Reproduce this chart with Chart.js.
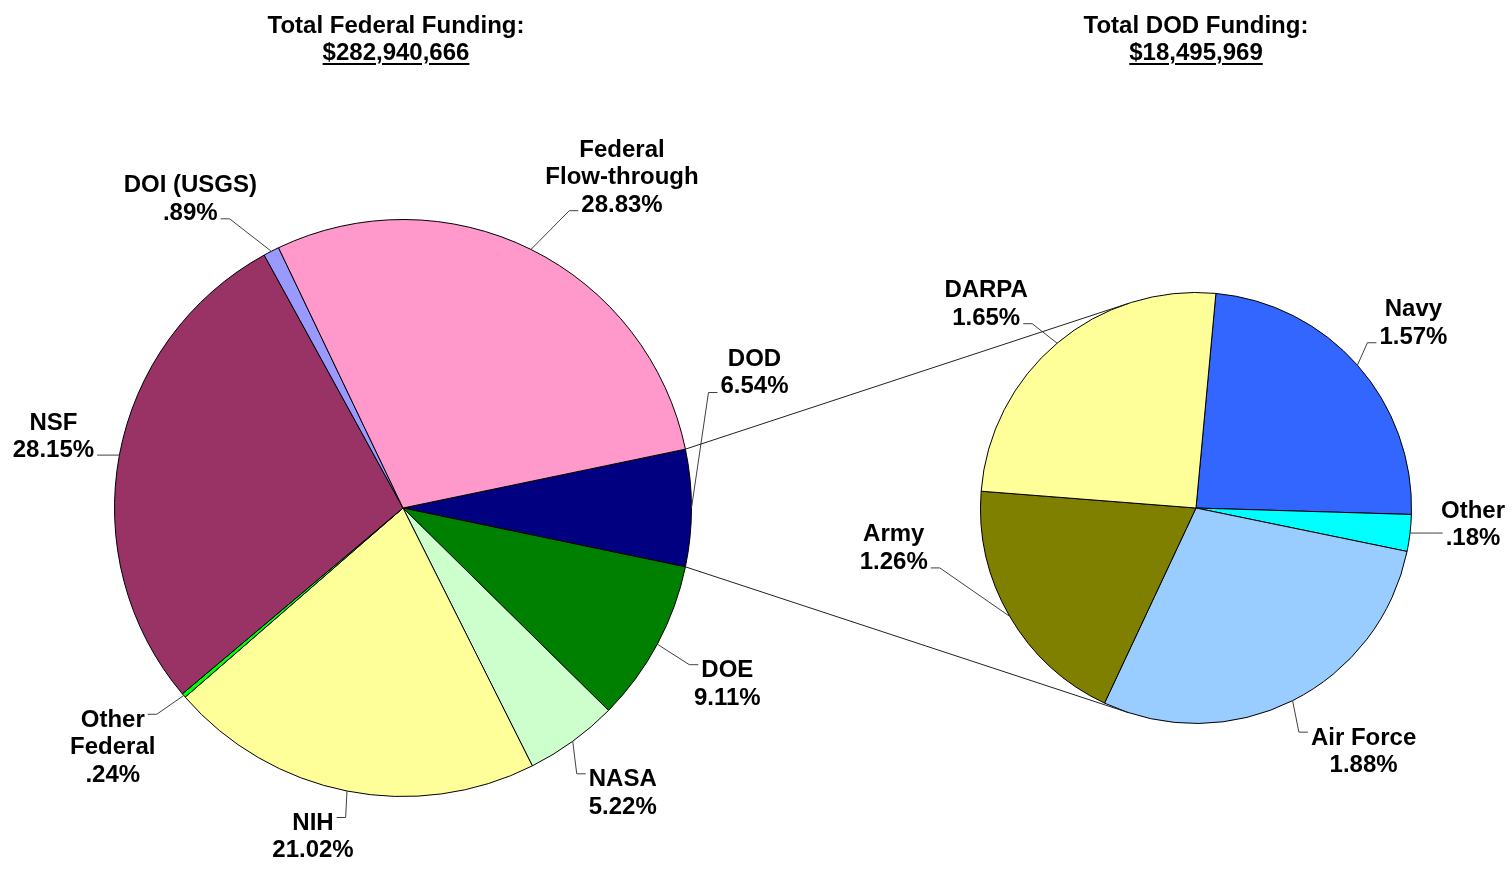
<!DOCTYPE html>
<html>
<head>
<meta charset="utf-8">
<script src="https://cdn.jsdelivr.net/npm/chart.js@4.4.0/dist/chart.umd.min.js"></script>
<style>
  html, body { margin: 0; padding: 0; background: #fff; }
  #wrap { position: relative; width: 1512px; height: 869px; font-family: "Liberation Sans", Arial, sans-serif; }
  canvas { position: absolute; left: 0; top: 0; }
  .title { position: absolute; top: 11px; width: 400px; text-align: center; font-weight: bold; font-size: 24px; line-height: 27px; color: #000; }
  .title u { text-decoration-thickness: 2px; text-underline-offset: 3px; }
</style>
</head>
<body>
<div id="wrap">
  <canvas id="mainPie" width="1512" height="869"></canvas>
  <canvas id="dodPie" width="1512" height="869"></canvas>
  <div class="title" style="left:196px">Total Federal Funding:<br><u>$282,940,666</u></div>
  <div class="title" style="left:996px">Total DOD Funding:<br><u>$18,495,969</u></div>
</div>
<script>
// federal agencies, clockwise from DOD
const federalLabels = ['DOD', 'DOE', 'NASA', 'NIH', 'Other\nFederal', 'NSF', 'DOI (USGS)', 'Federal\nFlow-through'];
const federalShares = [6.54, 9.11, 5.22, 21.02, 0.24, 28.15, 0.89, 28.83];
const federalColors = ['#000080', '#008000', '#CCFFCC', '#FFFF99', '#00FF00', '#993366', '#9999FF', '#FF99CC'];

// DOD breakdown, clockwise from Navy
const dodLabels = ['Navy', 'Other', 'Air Force', 'Army', 'DARPA'];
const dodShares = [1.57, 0.18, 1.88, 1.26, 1.65];
const dodColors = ['#3366FF', '#00FFFF', '#99CCFF', '#808000', '#FFFF99'];

// where each label box sits, relative to its slice's outer midpoint
const federalLabelShift = [[63, -135], [70, 40], [50, 52], [-34, 46], [-71, 52], [-66, -18], [-81, -52], [91, -72]];
const dodLabelShift = [[56, -42], [63, -8], [71, 51], [-116, -68], [-71, -39]];

const LABEL_FONT = 'bold 24px "Liberation Sans", Arial, sans-serif';
const LINE_H = 27.5;

function fmtPct(v) {
    let s = v.toFixed(2);
    if (v < 1) s = s.replace(/^0/, '');
    return s + '%';
}

function callouts(shifts) {
    return {
        id: 'callouts',
        afterDatasetsDraw(chart) {
            const ctx = chart.ctx;
            const arcs = chart.getDatasetMeta(0).data;
            const values = chart.data.datasets[0].data;
            ctx.save();
            ctx.font = LABEL_FONT;
            ctx.textAlign = 'center';
            ctx.textBaseline = 'middle';
            arcs.forEach((arc, i) => {
                const mid = (arc.startAngle + arc.endAngle) / 2;
                const ex = arc.x + Math.cos(mid) * arc.outerRadius;
                const ey = arc.y + Math.sin(mid) * arc.outerRadius;
                const lines = chart.data.labels[i].split('\n').concat(fmtPct(values[i]));
                const cx = ex + shifts[i][0], cy = ey + shifts[i][1];
                const top = cy - lines.length * LINE_H / 2;
                const bottom = cy + lines.length * LINE_H / 2;
                const ay = Math.min(Math.max(ey, top + 8), bottom - 8);
                // attach to the text line the leader meets
                const row = Math.min(lines.length - 1, Math.max(0, Math.floor((ay - top) / LINE_H)));
                const w = ctx.measureText(lines[row]).width;
                const right = cx > ex;
                const ax = right ? cx - w / 2 - 3 : cx + w / 2 + 3;
                const bx = right ? ax - 9 : ax + 9;
                ctx.strokeStyle = '#404040';
                ctx.lineWidth = 1;
                ctx.beginPath();
                ctx.moveTo(ex, ey);
                ctx.lineTo(bx, ay);
                ctx.lineTo(ax, ay);
                ctx.stroke();
                ctx.fillStyle = '#000';
                lines.forEach((l, k) => ctx.fillText(l, cx, top + LINE_H * (k + 0.5)));
            });
            ctx.restore();
        }
    };
}

function pieOptions(padding, rotation) {
    return {
        responsive: false,
        animation: false,
        rotation: rotation,
        layout: { padding: padding },
        plugins: { legend: { display: false }, tooltip: { enabled: false } }
    };
}

const mainChart = new Chart(document.getElementById('mainPie').getContext('2d'), {
    type: 'pie',
    data: {
        labels: federalLabels,
        datasets: [{ data: federalShares, backgroundColor: federalColors, borderColor: '#000', borderWidth: 1 }]
    },
    // DOD slice centred on the right-hand side
    options: pieOptions({ left: 114, right: 820, top: 219, bottom: 72 }, 90 - federalShares[0] * 1.8),
    plugins: [callouts(federalLabelShift)]
});

// lines from the DOD slice edges, tangent to the second pie
const connectors = {
    id: 'connectors',
    afterDraw(chart) {
        const src = mainChart.getDatasetMeta(0).data[0];
        const dst = chart.getDatasetMeta(0).data[0];
        const r = dst.outerRadius;
        const ctx = chart.ctx;
        ctx.save();
        ctx.strokeStyle = '#202020';
        ctx.lineWidth = 1;
        [src.startAngle, src.endAngle].forEach((a, k) => {
            const px = src.x + Math.cos(a) * src.outerRadius;
            const py = src.y + Math.sin(a) * src.outerRadius;
            const d = Math.hypot(px - dst.x, py - dst.y);
            const base = Math.atan2(py - dst.y, px - dst.x);
            const off = Math.acos(r / d);
            const pts = [base + off, base - off]
                .map(t => [dst.x + Math.cos(t) * r, dst.y + Math.sin(t) * r])
                .sort((p, q) => p[1] - q[1]);
            const t = pts[k];
            ctx.beginPath();
            ctx.moveTo(px, py);
            ctx.lineTo(t[0], t[1]);
            ctx.stroke();
        });
        ctx.restore();
    }
};

new Chart(document.getElementById('dodPie').getContext('2d'), {
    type: 'pie',
    data: {
        labels: dodLabels,
        datasets: [{ data: dodShares, backgroundColor: dodColors, borderColor: '#000', borderWidth: 1 }]
    },
    options: pieOptions({ left: 980, right: 100, top: 292, bottom: 145 }, 5.3),
    plugins: [callouts(dodLabelShift), connectors]
});
</script>
</body>
</html>
